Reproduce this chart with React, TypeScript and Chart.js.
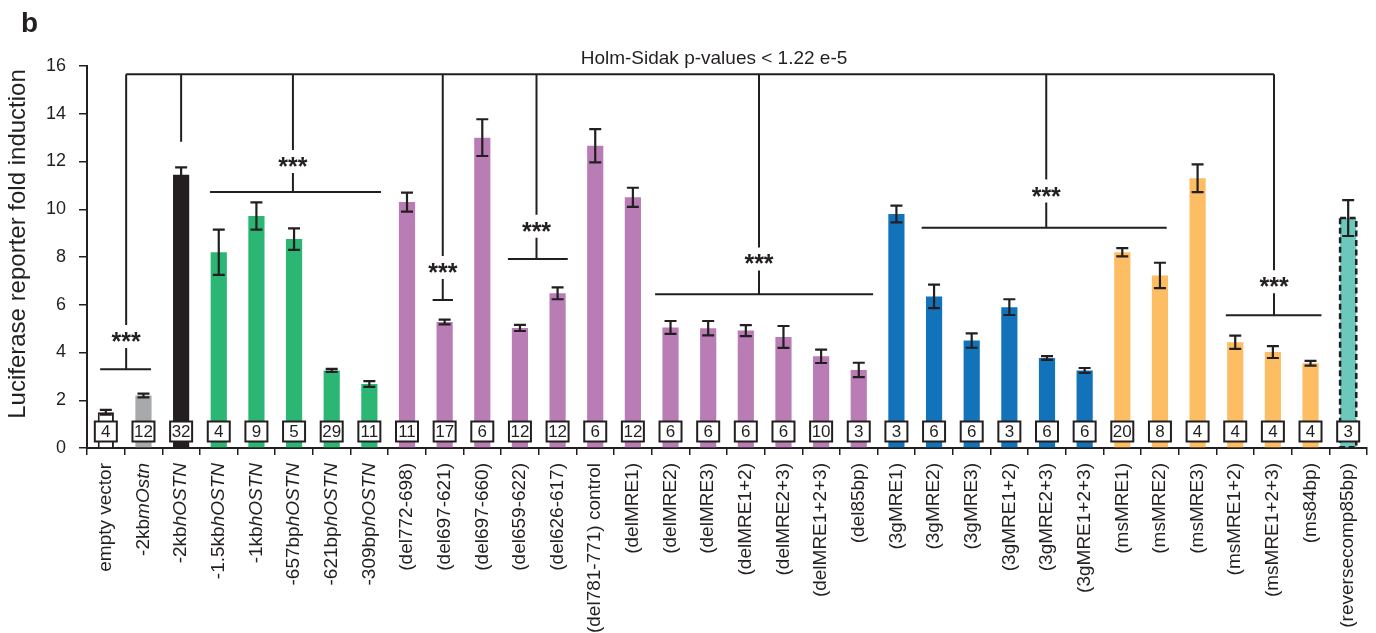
import { useEffect, useRef } from "react";
import { Chart, registerables } from "chart.js";

Chart.register(...registerables);

// ---------- data ----------
const categories = [
  "empty vector", "-2kbmOstn", "-2kbhOSTN", "-1.5kbhOSTN", "-1kbhOSTN", "-657bphOSTN", "-621bphOSTN", "-309bphOSTN",
  "(del772-698)", "(del697-621)", "(del697-660)", "(del659-622)", "(del626-617)", "(del781-771) control",
  "(delMRE1)", "(delMRE2)", "(delMRE3)", "(delMRE1+2)", "(delMRE2+3)", "(delMRE1+2+3)", "(del85bp)",
  "(3gMRE1)", "(3gMRE2)", "(3gMRE3)", "(3gMRE1+2)", "(3gMRE2+3)", "(3gMRE1+2+3)",
  "(msMRE1)", "(msMRE2)", "(msMRE3)", "(msMRE1+2)", "(msMRE1+2+3)", "(ms84bp)",
  "(reversecomp85bp)",
];
// italic gene-name suffix of each label
const italicSuffix = [
  "", "mOstn", "hOSTN", "hOSTN", "hOSTN", "hOSTN", "hOSTN", "hOSTN",
  "", "", "", "", "", "", "", "", "", "", "", "", "",
  "", "", "", "", "", "", "", "", "", "", "", "", "",
];
const foldInduction = [
  1.5, 2.2, 11.45, 8.2, 9.72, 8.75, 3.25, 2.68,
  10.3, 5.28, 13.0, 5.03, 6.48, 12.66, 10.5, 5.05, 5.02, 4.92, 4.65, 3.84, 3.27,
  9.8, 6.35, 4.5, 5.9, 3.77, 3.25,
  8.2, 7.23, 11.3, 4.43, 4.02, 3.55,
  9.63,
];
const errorValues = [
  0.1, 0.08, 0.3, 0.95, 0.57, 0.45, 0.06, 0.12,
  0.4, 0.1, 0.77, 0.13, 0.25, 0.7, 0.4, 0.27, 0.3, 0.23, 0.46, 0.28, 0.3,
  0.35, 0.49, 0.3, 0.33, 0.08, 0.1,
  0.17, 0.53, 0.58, 0.28, 0.25, 0.1,
  0.75,
];
const nValues = [
  4, 12, 32, 4, 9, 5, 29, 11,
  11, 17, 6, 12, 12, 6, 12, 6, 6, 6, 6, 10, 3,
  3, 6, 6, 3, 6, 6,
  20, 8, 4, 4, 4, 4,
  3,
];
const yTicks = [0, 2, 4, 6, 8, 10, 12, 14, 16];
const titleText = "Holm-Sidak p-values < 1.22 e-5";
const yTitle = "Luciferase reporter fold induction";
const panelLabel = "b";
const starsText = "***";
// significance brackets, in category-index / fold-induction units
const bracketFrom = [-0.15, 2.77, 8.68, 10.68, 14.59, 21.67, 29.75];
const bracketTo = [1.2, 7.31, 9.22, 12.27, 20.38, 28.18, 32.29];
const bracketStem = [0.54, 4.97, 8.95, 11.44, 17.35, 24.98, 31.03];
const bracketLevel = [3.3, 10.72, 6.2, 7.92, 6.44, 9.23, 5.56];
const bracketStars = [4.65, 11.98, 7.54, 9.27, 7.9, 10.74, 6.94];
const topLineLevel = 15.65;
const refStem = 2.0; // -2kbhOSTN reference
const refStemEnd = 12.83;

// ---------- styles ----------
const INK = "#231f20";
const FONT = "'Liberation Sans', Arial, Helvetica, sans-serif";
const WHITE = "#ffffff";
const GRAY = "#a7a9ab";
const BLACK = "#231f20";
const GREEN = "#2cb673";
const PURPLE = "#b97cb5";
const BLUE = "#1273bb";
const ORANGE = "#fdbd63";
const TEAL = "#6cc8bc";
const barColors = [
  WHITE, GRAY, BLACK, GREEN, GREEN, GREEN, GREEN, GREEN,
  PURPLE, PURPLE, PURPLE, PURPLE, PURPLE, PURPLE, PURPLE, PURPLE, PURPLE, PURPLE, PURPLE, PURPLE, PURPLE,
  BLUE, BLUE, BLUE, BLUE, BLUE, BLUE,
  ORANGE, ORANGE, ORANGE, ORANGE, ORANGE, ORANGE,
  TEAL,
];
const barBorderWidths = categories.map((_, i) => (i === 0 ? 2 : 0));
const dashedBars = categories.map((_, i) => i === categories.length - 1);

const overlayPlugin = {
  id: "overlay",
  afterDatasetsDraw(chart: any) {
    const { ctx, chartArea } = chart;
    const xs = chart.scales.x;
    const ys = chart.scales.y;
    const meta = chart.getDatasetMeta(0);
    ctx.save();
    // dashed outline
    meta.data.forEach((bar: any, i: number) => {
      if (!dashedBars[i]) return;
      const p = bar.getProps(["x", "y", "width", "base"], true);
      ctx.setLineDash([6, 3.5]);
      ctx.lineWidth = 2.5;
      ctx.strokeStyle = INK;
      ctx.strokeRect(p.x - p.width / 2, p.y, p.width, p.base - p.y);
      ctx.setLineDash([]);
    });
    // n boxes
    ctx.font = `17px ${FONT}`;
    ctx.textAlign = "center";
    ctx.textBaseline = "middle";
    meta.data.forEach((bar: any, i: number) => {
      const cx = bar.x;
      const cy = chartArea.bottom - 16.5;
      ctx.fillStyle = "#fff";
      ctx.fillRect(cx - 11, cy - 10, 22, 20);
      ctx.lineWidth = 2;
      ctx.strokeStyle = INK;
      ctx.strokeRect(cx - 11, cy - 10, 22, 20);
      ctx.fillStyle = INK;
      ctx.fillText(String(nValues[i]), cx, cy + 1);
    });
    // error bars
    ctx.strokeStyle = INK;
    ctx.lineWidth = 2.2;
    meta.data.forEach((bar: any, i: number) => {
      const cx = bar.x;
      const hi = ys.getPixelForValue(foldInduction[i] + errorValues[i]);
      const lo = ys.getPixelForValue(foldInduction[i] - errorValues[i]);
      ctx.beginPath();
      ctx.moveTo(cx, hi);
      ctx.lineTo(cx, lo);
      ctx.moveTo(cx - 6, hi);
      ctx.lineTo(cx + 6, hi);
      ctx.moveTo(cx - 6, lo);
      ctx.lineTo(cx + 6, lo);
      ctx.stroke();
    });
    // brackets
    ctx.lineWidth = 2;
    ctx.strokeStyle = INK;
    const topY = ys.getPixelForValue(topLineLevel);
    ctx.beginPath();
    ctx.moveTo(xs.getPixelForValue(bracketStem[0]), topY);
    ctx.lineTo(xs.getPixelForValue(bracketStem[bracketStem.length - 1]), topY);
    ctx.moveTo(xs.getPixelForValue(refStem), topY);
    ctx.lineTo(xs.getPixelForValue(refStem), ys.getPixelForValue(refStemEnd));
    bracketFrom.forEach((f, k) => {
      const ly = ys.getPixelForValue(bracketLevel[k]);
      const sx = xs.getPixelForValue(bracketStem[k]);
      const sy = ys.getPixelForValue(bracketStars[k]);
      ctx.moveTo(xs.getPixelForValue(f), ly);
      ctx.lineTo(xs.getPixelForValue(bracketTo[k]), ly);
      ctx.moveTo(sx, ly);
      ctx.lineTo(sx, sy + 11);
      ctx.moveTo(sx, sy - 12);
      ctx.lineTo(sx, topY);
    });
    ctx.stroke();
    // stars
    ctx.font = `bold 25px ${FONT}`;
    ctx.textAlign = "center";
    ctx.textBaseline = "alphabetic";
    ctx.fillStyle = INK;
    const m = ctx.measureText(starsText);
    const off = (m.actualBoundingBoxAscent - m.actualBoundingBoxDescent) / 2;
    bracketFrom.forEach((_, k) => {
      const sx = xs.getPixelForValue(bracketStem[k]);
      const sy = ys.getPixelForValue(bracketStars[k]);
      ctx.fillText(starsText, sx, sy + off);
    });
    ctx.restore();
  },
  afterDraw(chart: any) {
    const { ctx, chartArea } = chart;
    const meta = chart.getDatasetMeta(0);
    ctx.save();
    ctx.fillStyle = INK;
    // x labels (rotated, with italic suffix)
    const reg = `19px ${FONT}`;
    const ita = `italic 19px ${FONT}`;
    ctx.textBaseline = "middle";
    ctx.textAlign = "left";
    meta.data.forEach((bar: any, i: number) => {
      const label = categories[i];
      const suf = italicSuffix[i];
      const pre = suf ? label.slice(0, label.length - suf.length) : label;
      ctx.font = reg;
      const wPre = ctx.measureText(pre).width;
      ctx.font = ita;
      const wSuf = suf ? ctx.measureText(suf).width : 0;
      ctx.save();
      ctx.translate(bar.x, chartArea.bottom + 15);
      ctx.rotate(-Math.PI / 2);
      ctx.font = reg;
      ctx.fillText(pre, -(wPre + wSuf), 0);
      if (suf) {
        ctx.font = ita;
        ctx.fillText(suf, -wSuf, 0);
      }
      ctx.restore();
    });
    // y title
    ctx.save();
    ctx.translate(18, chartArea.bottom - 204);
    ctx.rotate(-Math.PI / 2);
    ctx.font = `24px ${FONT}`;
    ctx.textAlign = "center";
    ctx.textBaseline = "middle";
    ctx.fillText(yTitle, 0, 0);
    ctx.restore();
    // chart title
    ctx.font = `19px ${FONT}`;
    ctx.textAlign = "center";
    ctx.textBaseline = "middle";
    ctx.fillText(titleText, 714, 59);
    // panel label
    ctx.font = `bold 28px ${FONT}`;
    ctx.textAlign = "left";
    ctx.textBaseline = "alphabetic";
    ctx.fillText(panelLabel, 21, 32);
    ctx.restore();
  },
};

export default function App() {
  const ref = useRef<HTMLCanvasElement | null>(null);
  useEffect(() => {
    if (!ref.current) return;
    const chart = new Chart(ref.current, {
      type: "bar",
      data: {
        labels: categories,
        datasets: [
          {
            data: foldInduction,
            backgroundColor: barColors,
            borderColor: INK,
            borderWidth: barBorderWidths,
            borderSkipped: "start",
            barPercentage: 0.43,
            categoryPercentage: 1,
          },
        ],
      },
      options: {
        animation: false,
        responsive: false,
        devicePixelRatio: 1,
        layout: { padding: { top: 66, right: 9, left: 0, bottom: 0 } },
        plugins: { legend: { display: false }, tooltip: { enabled: false }, title: { display: false } },
        scales: {
          x: {
            type: "category",
            offset: true,
            ticks: { display: false },
            grid: { drawOnChartArea: false, drawTicks: true, tickLength: 7, color: INK, lineWidth: 1.5, offset: true },
            border: { display: true, color: INK, width: 2 },
            afterFit: (s: any) => {
              s.height = 185;
            },
          },
          y: {
            min: 0,
            max: 16,
            afterBuildTicks: (s: any) => {
              s.ticks = yTicks.map((v) => ({ value: v }));
            },
            ticks: { font: { size: 18, family: FONT }, color: INK, padding: 13 },
            grid: { drawOnChartArea: false, drawTicks: true, tickLength: 8, color: INK, lineWidth: 1.5 },
            border: { display: true, color: INK, width: 2 },
            afterFit: (s: any) => {
              s.width = 87;
            },
          },
        },
      },
      plugins: [overlayPlugin],
    } as any);
    return () => chart.destroy();
  }, []);
  return (
    <div style={{ position: "fixed", left: 0, top: 0, width: 1376, height: 633, background: "#fff" }}>
      <canvas ref={ref} width={1376} height={633} style={{ display: "block" }} />
    </div>
  );
}
